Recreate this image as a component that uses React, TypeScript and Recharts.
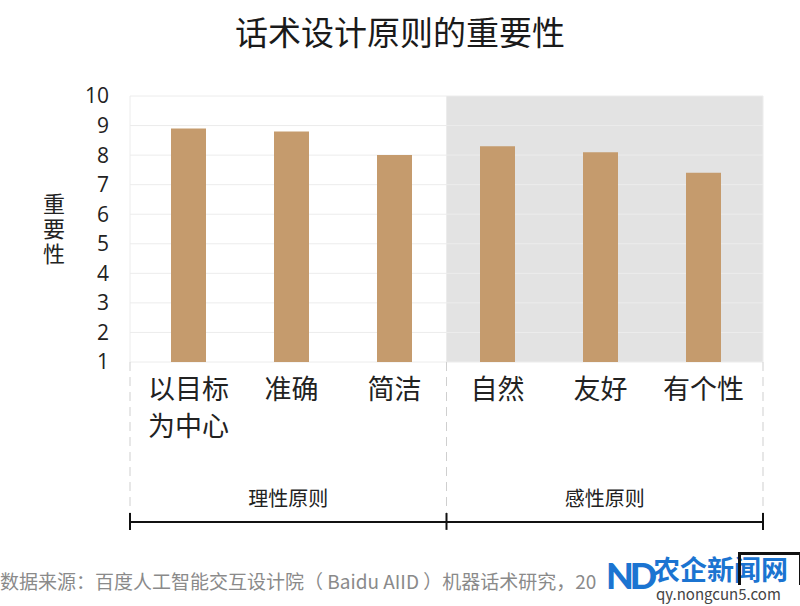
import React from 'react';
import { BarChart, Bar, XAxis, YAxis, CartesianGrid, ReferenceLine } from 'recharts';

const FONT = '"Noto Sans CJK SC", "Noto Sans", sans-serif';

// principles and their importance scores
const categories = ['以目标\n为中心', '准确', '简洁', '自然', '友好', '有个性'];
const scores = [8.9, 8.8, 8.0, 8.3, 8.1, 7.4];
const groups = ['理性原则', '感性原则'];
const yTicks = [1, 2, 3, 4, 5, 6, 7, 8, 9, 10];
const groupEdges = [0, 3, 6];

// pos = slot centre on a 0..6 helper scale used for the group bracket
const data = categories.map((name, i) => ({ name, score: scores[i], pos: i + 0.5 }));

// bracket level below the axis, in value units of the y scale
const BRACKET_Y = -4.41;

const CategoryTick = ({ x, y, payload }: any) => {
  const lines = String(payload.value).split('\n');
  return (
    <text x={x} y={y} textAnchor="middle" fill="#222" fontSize={27} fontFamily={FONT}>
      {lines.map((line, i) => (
        <tspan key={i} x={x} dy={37}>
          {line}
        </tspan>
      ))}
    </text>
  );
};

// split the plot width at the group edges (white / grey columns)
const groupColumns = ({ offset }: any) =>
  offset ? groupEdges.map((v) => offset.left + (offset.width * v) / groupEdges[groupEdges.length - 1]) : [];

export default function App() {
  return (
    <div style={{ position: 'absolute', left: 0, top: 0, width: 800, height: 606, background: '#fff', fontFamily: FONT }}>
      <div
        style={{
          position: 'absolute',
          top: 15,
          left: 0,
          width: 800,
          textAlign: 'center',
          fontSize: 33,
          lineHeight: '33px',
          color: '#1a1a1a',
        }}
      >
        话术设计原则的重要性
      </div>
      <div
        style={{
          position: 'absolute',
          left: 43,
          top: 190,
          width: 23,
          fontSize: 22,
          lineHeight: '25px',
          color: '#222',
        }}
      >
        重要性
      </div>

      <BarChart width={800} height={606} data={data} margin={{ top: 96, right: 37, left: 0, bottom: 144 }}>
        {/* white / grey group backgrounds with light grid lines on top */}
        <CartesianGrid
          stroke="#ececec"
          verticalFill={['#ffffff', '#e3e3e3']}
          fillOpacity={1}
          verticalCoordinatesGenerator={groupColumns}
        />
        <XAxis
          dataKey="name"
          height={100}
          padding={{ left: 7, right: 8 }}
          axisLine={false}
          tickLine={false}
          tickSize={0}
          tickMargin={0}
          interval={0}
          tick={<CategoryTick />}
        />
        <XAxis xAxisId="bg" dataKey="pos" type="number" domain={[0, 6]} allowDataOverflow hide />
        <YAxis
          width={130}
          domain={[1, 10]}
          ticks={yTicks}
          interval={0}
          allowDataOverflow
          axisLine={false}
          tickLine={false}
          tickSize={0}
          tickMargin={21}
          tick={{ fill: '#222', fontSize: 21, fontFamily: '"Open Sans", sans-serif' }}
        />
        <Bar dataKey="score" fill="#c59b6d" barSize={35} isAnimationActive={false} />

        {/* dashed separators below the axis */}
        {groupEdges.map((x) => (
          <ReferenceLine
            key={'d' + x}
            xAxisId="bg"
            segment={[{ x, y: 1 }, { x, y: BRACKET_Y }]}
            stroke="#cfcfcf"
            strokeDasharray="9 6"
            ifOverflow="visible"
          />
        ))}
        {/* group bracket */}
        {groups.map((g, i) => (
          <ReferenceLine
            key={'g' + i}
            xAxisId="bg"
            segment={[{ x: groupEdges[i], y: BRACKET_Y }, { x: groupEdges[i + 1], y: BRACKET_Y }]}
            stroke="#111"
            strokeWidth={2}
            ifOverflow="visible"
            label={{ value: g, position: 'top', offset: 16, fill: '#222', fontSize: 20, fontFamily: FONT }}
          />
        ))}
        {groupEdges.map((x) => (
          <ReferenceLine
            key={'t' + x}
            xAxisId="bg"
            segment={[{ x, y: -4.11 }, { x, y: -4.68 }]}
            stroke="#111"
            strokeWidth={2}
            ifOverflow="visible"
          />
        ))}
      </BarChart>

      <div
        style={{
          position: 'absolute',
          left: 0,
          top: 569,
          fontSize: 19,
          lineHeight: '24px',
          color: '#8a8a8a',
          whiteSpace: 'nowrap',
        }}
      >
        数据来源：百度人工智能交互设计院（ Baidu AIID ）机器话术研究，20
      </div>

      {/* watermark */}
      <div style={{ position: 'absolute', left: 606, top: 548, width: 194, height: 58 }}>
        <div
          style={{
            position: 'absolute',
            left: 0,
            top: 4,
            fontSize: 36,
            lineHeight: '46px',
            fontWeight: 900,
            color: '#1b74d1',
            fontFamily: 'Lato, sans-serif',
            letterSpacing: -4,
          }}
        >
          ND
        </div>
        <div
          style={{
            position: 'absolute',
            left: 47,
            top: 7,
            fontSize: 27,
            lineHeight: '28px',
            fontWeight: 700,
            color: '#1b74d1',
            whiteSpace: 'nowrap',
          }}
        >
          农企新闻网
        </div>
        <div
          style={{
            position: 'absolute',
            left: 50,
            top: 38,
            fontSize: 15,
            lineHeight: '16px',
            color: '#444',
            whiteSpace: 'nowrap',
          }}
        >
          qy.nongcun5.com
        </div>
        <div
          style={{
            position: 'absolute',
            left: 132,
            top: 4,
            width: 58,
            height: 30,
            borderTop: '3px solid #111',
            borderRight: '3px solid #111',
            borderLeft: '3px solid #111',
          }}
        />
      </div>
    </div>
  );
}
